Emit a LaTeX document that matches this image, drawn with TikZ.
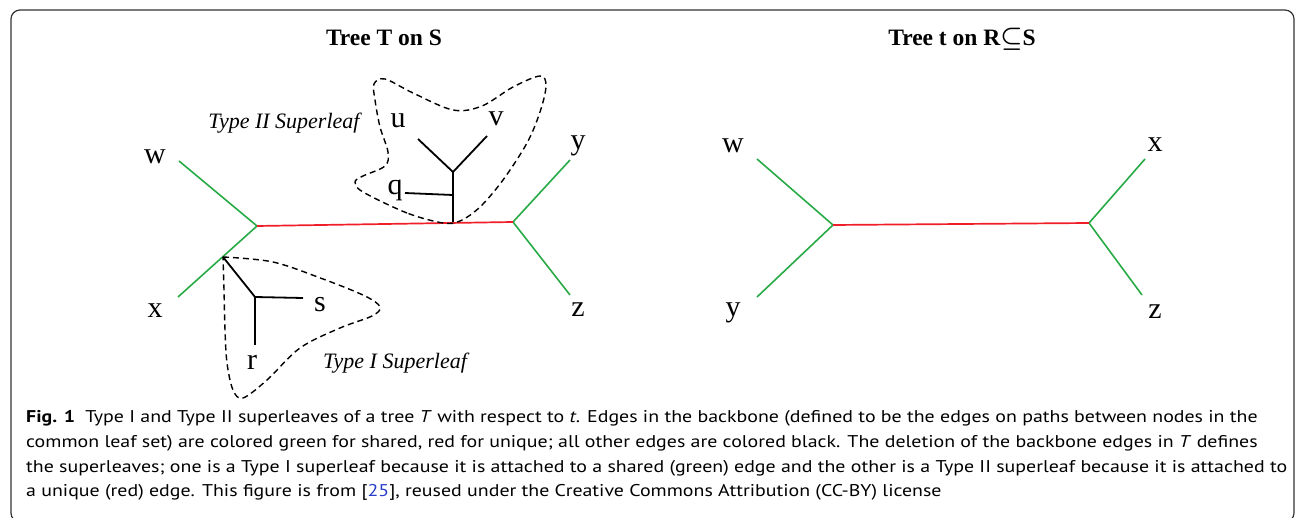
\documentclass[tikz,border=0pt]{standalone}
\usepackage{fontspec}
\setmainfont{Liberation Serif}
\newfontfamily\capfont[FakeStretch=1.17]{PT Sans}
\definecolor{edgegreen}{RGB}{40,170,70}
\definecolor{edgered}{RGB}{240,30,40}
\definecolor{linkblue}{RGB}{40,60,200}
\begin{document}
\begin{tikzpicture}[x=1pt,y=-1pt,
  green edge/.style={draw=edgegreen,line width=1.6pt},
  red edge/.style={draw=edgered,line width=1.7pt},
  black edge/.style={draw=black,line width=1.8pt},
  superleaf/.style={draw=black,line width=1.4pt,dash pattern=on 6pt off 4pt},
  leaf/.style={font=\fontsize{30}{32}\selectfont,inner sep=0pt},
  treetitle/.style={font=\bfseries\fontsize{23.5}{26}\selectfont,inner sep=0pt},
  sltext/.style={font=\itshape\fontsize{22}{24}\selectfont,inner sep=0pt},
  capline/.style={font=\capfont\fontsize{17}{20}\selectfont,anchor=base west,inner sep=0pt}]
\useasboundingbox (0,0) rectangle (1296,518);
\draw[line width=1.2pt,rounded corners=9pt,draw=black!80] (11,10) rectangle (1294,522);

% ---------- Tree T on S ----------
\node[treetitle] (titleT) at (384,38) {Tree T on S};
\coordinate (A) at (257,226);
\coordinate (B) at (513,222);
\coordinate (wend) at (179,161);
\coordinate (xend) at (178,297);
\coordinate (yend) at (570,160);
\coordinate (zend) at (570,295);
\coordinate (att1) at (223,257);
\coordinate (att2) at (453,222);
\draw[green edge] (A) -- (wend);
\draw[green edge] (A) -- (xend);
\draw[green edge] (B) -- (yend);
\draw[green edge] (B) -- (zend);
\draw[red edge] (A) -- (B);
\node[leaf] (lw) at (155,157) {w};
\node[leaf] (lx) at (155,311) {x};
\node[leaf] (ly) at (578,146) {y};
\node[leaf] (lz) at (578,310) {z};

% Type II superleaf
\coordinate (j2) at (453,172);
\coordinate (qj) at (453,195);
\coordinate (uend) at (418,139);
\coordinate (vend) at (487,136);
\coordinate (qend) at (405,193);
\draw[black edge] (att2) -- (j2);
\draw[black edge] (j2) -- (uend);
\draw[black edge] (j2) -- (vend);
\draw[black edge] (qj) -- (qend);
\node[leaf] (lu) at (398,121) {u};
\node[leaf] (lv) at (496,119) {v};
\node[leaf] (lq) at (395,190) {q};
\draw[superleaf] plot[smooth cycle,tension=0.55] coordinates {
  (443,223) (407,213) (363,192) (355,182) (363,176) (385,166) (388,152)
  (380,127) (375,100) (374,84) (385,79) (413,93) (453,110) (482,106)
  (513,87) (540,76) (546,86) (540,112) (527,143) (503,180) (480,207) (460,221)};
\node[sltext] (t2) at (284,123) {Type II Superleaf};

% Type I superleaf
\coordinate (j1) at (255,297);
\coordinate (send) at (303,298);
\coordinate (rend) at (255,345);
\draw[black edge] (att1) -- (j1);
\draw[black edge] (j1) -- (send);
\draw[black edge] (j1) -- (rend);
\node[leaf] (ls) at (320,305) {s};
\node[leaf] (lr) at (252,362) {r};
\draw[superleaf] plot[smooth,tension=0.55] coordinates {
  (att1) (273,262) (323,279) (365,296) (380,307) (372,316) (340,328)
  (300,348) (267,380) (243,398) (233,390) (227,363) (225,330) (224,290) (att1)};
\node[sltext] (t1) at (395,363) {Type I Superleaf};

% ---------- Tree t on R subset S ----------
\node[treetitle] (titlet) at (962,39) {Tree t on R{\boldmath$\subseteq$}S};
\coordinate (C) at (833,225);
\coordinate (D) at (1089,223);
\coordinate (w2) at (757,159);
\coordinate (y2) at (757,297);
\coordinate (x2) at (1145,159);
\coordinate (z2) at (1142,295);
\draw[green edge] (C) -- (w2);
\draw[green edge] (C) -- (y2);
\draw[green edge] (D) -- (x2);
\draw[green edge] (D) -- (z2);
\draw[red edge] (C) -- (D);
\node[leaf] (lw2) at (733,146) {w};
\node[leaf] (ly2) at (733,313) {y};
\node[leaf] (lx2) at (1155,145) {x};
\node[leaf] (lz2) at (1155,312) {z};

% ---------- Caption ----------
\node[capline] (c1) at (26,423) {\textbf{Fig. 1}\hspace{0.6em}Type I and Type II superleaves of a tree \textit{T} with respect to \textit{t}. Edges in the backbone (defined to be the edges on paths between nodes in the};
\node[capline] (c2) at (26,447) {common leaf set) are colored green for shared, red for unique; all other edges are colored black. The deletion of the backbone edges in \textit{T} defines};
\node[capline] (c3) at (26,472) {the superleaves; one is a Type I superleaf because it is attached to a shared (green) edge and the other is a Type II superleaf because it is attached to};
\node[capline] (c4) at (26,496) {a unique (red) edge. This figure is from [\textcolor{linkblue}{25}], reused under the Creative Commons Attribution (CC-BY) license};
\end{tikzpicture}
\end{document}
